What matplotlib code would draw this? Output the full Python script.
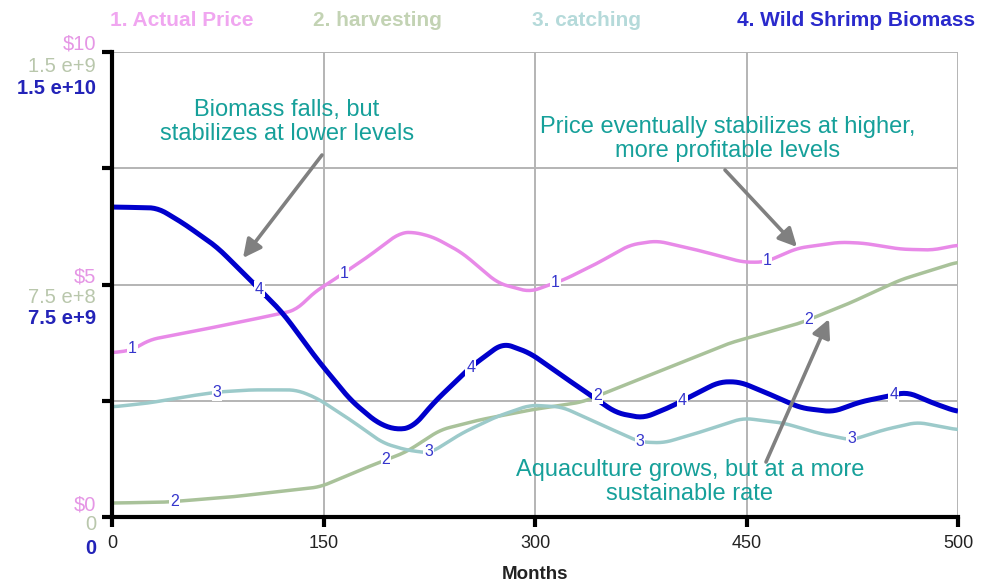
import numpy as np
import matplotlib
matplotlib.use("Agg")
import matplotlib.pyplot as plt

plt.rcParams['font.family'] = ['Liberation Sans', 'DejaVu Sans']

# time axis (months) and the four model outputs
price_t = [0, 12, 22, 52, 82, 109, 119, 131, 151, 170, 178, 190, 207, 228, 247, 253,
           267, 287, 306, 322, 346, 373, 386, 405, 430, 444, 466, 485, 500]
price = [3.53, 3.59, 3.81, 4.02, 4.24, 4.45, 4.82, 5.10, 5.59, 6.11, 6.13, 6.02, 5.68, 5.03,
         4.84, 4.92, 5.10, 5.46, 5.85, 5.94, 5.74, 5.48, 5.48, 5.78, 5.91, 5.89, 5.76, 5.74, 5.85]

harvest_t = [0, 32, 71, 123, 151, 174, 194, 217, 247, 278, 306, 336, 365, 407, 436, 466, 500]
harvest = [0.45e8, 0.48e8, 0.65e8, 0.97e8, 1.61e8, 2.10e8, 2.81e8, 3.13e8, 3.45e8, 3.71e8,
           4.32e8, 4.97e8, 5.61e8, 6.26e8, 6.90e8, 7.65e8, 8.23e8]

catch_t = [0, 22, 42, 62, 82, 109, 121, 141, 160, 174, 188, 207, 227, 247, 266, 287, 312,
           326, 346, 373, 397, 417, 437, 456, 476, 500]
catching = [3.55e8, 3.68e8, 3.87e8, 4.03e8, 4.10e8, 4.10e8, 3.84e8, 3.13e8, 2.39e8, 2.16e8,
            2.06e8, 2.71e8, 3.23e8, 3.61e8, 3.55e8, 3.03e8, 2.42e8, 2.39e8, 2.71e8, 3.19e8,
            3.03e8, 2.71e8, 2.48e8, 2.81e8, 3.06e8, 2.81e8]

bio_t = [0, 27, 42, 62, 80, 101, 121, 141, 157, 168, 178, 190, 212, 231, 247, 267, 287, 298,
         314, 330, 347, 359, 371, 387, 407, 426, 442, 470, 485, 500]
biomass = [10.0e9, 9.97e9, 9.48e9, 8.71e9, 7.74e9, 6.58e9, 5.10e9, 3.77e9, 3.03e9, 2.81e9,
           2.90e9, 3.68e9, 4.84e9, 5.61e9, 5.29e9, 4.52e9, 3.77e9, 3.36e9, 3.19e9, 3.55e9,
           4.03e9, 4.36e9, 4.36e9, 4.00e9, 3.52e9, 3.39e9, 3.71e9, 4.03e9, 3.68e9, 3.39e9]

names = ["1. Actual Price", "2. harvesting", "3. catching", "4. Wild Shrimp Biomass"]
scale_max = [10, 1.5e9, 1.5e9, 1.5e10]
x_ticks = ["0", "150", "300", "450", "500"]
y_top = ["$10", "1.5 e+9", "1.5 e+10"]
y_mid = ["$5", "7.5 e+8", "7.5 e+9"]
y_bot = ["$0", "0", "0"]

line_col = ['#e88ae8', '#a9c29a', '#9ccaca', '#0000cc']
name_col = ['#f0a6f0', '#c3d3b4', '#b5dada', '#2a2acc']
ylab_col = ['#e596e5', '#b9c7ac', '#2323b8']
num_col = '#3535cc'
note_col = '#16a09a'
arrow_col = '#808080'


def smooth(t, v, step=1.0, win=11):
    tt = np.arange(0, 500 + step, step)
    vv = np.interp(tt, t, v)
    pad = win // 2
    vp = np.concatenate([np.full(pad, vv[0]), vv, np.full(pad, vv[-1])])
    return tt, np.convolve(vp, np.ones(win) / win, mode='valid')


fig = plt.figure(figsize=(9.82, 5.86), dpi=100)
ax = fig.add_axes([112 / 982, 69 / 586, 846 / 982, 465 / 586])
ax.set_xlim(0, 500)
ax.set_ylim(0, 1)

series = [(price_t, price), (harvest_t, harvest), (catch_t, catching), (bio_t, biomass)]
for i, (t, v) in enumerate(series):
    tt, vv = smooth(t, np.array(v) / scale_max[i])
    ax.plot(tt, vv, color=line_col[i], lw=3.6 if i == 3 else 2.5,
            solid_capstyle='butt', zorder=3 + i)
    # numbered markers along each curve
    for k in range(4):
        lt = 12 + 25 * i + 125 * k
        ly = np.interp(lt, tt, vv)
        ax.text(lt, ly, str(i + 1), color=num_col, fontsize=11.5, ha='center', va='center',
                zorder=10, bbox=dict(boxstyle='square,pad=0.05', fc='white', ec='none'))

# frame and grid
for q in [0.25, 0.5, 0.75, 1.0]:
    ax.axhline(q, color='#b4b4b4', lw=1.4, zorder=1)
    ax.axvline(500 * q, color='#b4b4b4', lw=1.4, zorder=1)
ax.spines['top'].set_visible(False)
ax.spines['right'].set_visible(False)
ax.spines['left'].set_linewidth(3)
ax.spines['bottom'].set_linewidth(3)
ax.spines['left'].set_zorder(12)
ax.spines['bottom'].set_zorder(12)

ax.set_xticks([0, 125, 250, 375, 500])
ax.set_xticklabels(x_ticks, fontsize=13, color='#222222')
ax.set_yticks([0, 0.25, 0.5, 0.75, 1.0])
ax.set_yticklabels([])
ax.tick_params(axis='both', direction='out', length=7, width=3, color='black')
ax.tick_params(axis='x', pad=6)
ax.set_xlabel("Months", fontsize=13.5, fontweight='bold', color='#222222', labelpad=10)

# stacked scale labels on the left axis
for yv, labs, offs in [(1.0, y_top, [8, -14, -36]), (0.5, y_mid, [8, -13, -34]),
                       (0.0, y_bot, [12, -8, -31])]:
    for j, (lab, dy) in enumerate(zip(labs, offs)):
        ax.annotate(lab, xy=(0, yv), xycoords=('axes fraction', 'data'),
                    xytext=(-16, dy), textcoords='offset pixels', ha='right', va='center',
                    fontsize=14.5, color=ylab_col[j], fontweight='bold' if j == 2 else 'normal',
                    annotation_clip=False)

# series names across the top
name_x = [110, 313, 532, 737]
for nm, nx, c in zip(names, name_x, name_col):
    fig.text(nx / 982, 1 - 20 / 586, nm, color=c, fontsize=15, fontweight='bold',
             ha='left', va='center')

# callouts
notes = [
    ("Biomass falls, but\nstabilizes at lower levels", (287, 122), (322, 155), (243, 258)),
    ("Price eventually stabilizes at higher,\nmore profitable levels", (728, 139), (725, 170), (797, 247)),
    ("Aquaculture grows, but at a more\nsustainable rate", (690, 482), (766, 462), (829, 319)),
]


def to_data(px, py):
    return (px - 112) * 500 / 846, (517 - py) / 465


for txt, (cx, cy), start, tip in notes:
    ax.text(*to_data(cx, cy), txt, color=note_col, fontsize=17, ha='center', va='center',
            linespacing=1.1, zorder=11)
    ax.annotate("", xy=to_data(*tip), xytext=to_data(*start), zorder=11,
                arrowprops=dict(arrowstyle='-|>,head_length=1.1,head_width=0.55',
                                color=arrow_col, lw=2.6, shrinkA=0, shrinkB=0))

fig.savefig("out.png", dpi=100)
